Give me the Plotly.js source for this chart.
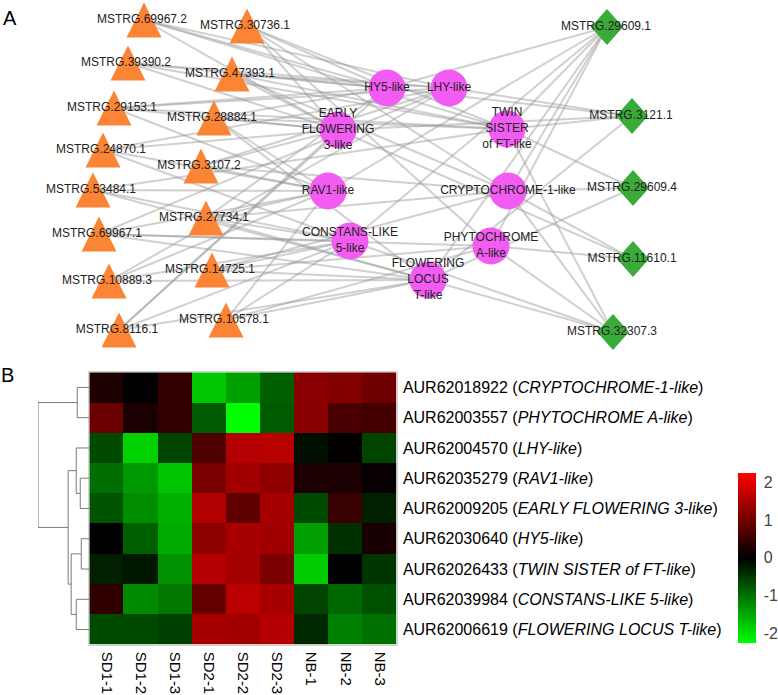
<!DOCTYPE html>
<html><head><meta charset="utf-8">
<script src="https://cdn.plot.ly/plotly-3.0.1.min.js"></script>
<style>html,body{margin:0;padding:0;background:#fff}#chart{width:778px;height:695px}</style>
</head><body><div id="chart"></div>
<script>
// ---------- Panel A: network (node layout coordinates) ----------
const lncNames = ['MSTRG.69967.2','MSTRG.30736.1','MSTRG.39390.2','MSTRG.47393.1','MSTRG.29153.1','MSTRG.28884.1','MSTRG.24870.1','MSTRG.3107.2','MSTRG.53484.1','MSTRG.27734.1','MSTRG.69967.1','MSTRG.14725.1','MSTRG.10889.3','MSTRG.10578.1','MSTRG.8116.1'];
const lncX = [144,247,128,232,114,214,103,201,93,206,99,212,109,226,119];
const lncY = [20,26,63,74,108,118,150,166,190,218,234,270,281,320,330];

const geneNames = ['HY5-like','LHY-like','EARLY<br>FLOWERING<br>3-like','TWIN<br>SISTER<br>of FT-like','RAV1-like','CRYPTOCHROME-1-like','CONSTANS-LIKE<br>5-like','PHYTOCHROME<br>A-like','FLOWERING<br>LOCUS<br>T-like'];
const geneX = [387,449,338,507,328,508,350,491,428];
const geneY = [88,88,130,129,191,191,241,246,280];

const dNames = ['MSTRG.29609.1','MSTRG.3121.1','MSTRG.29609.4','MSTRG.11610.1','MSTRG.32307.3'];
const dX = [607,632,633,633,613];
const dY = [27,116,188,259,332];

// edges: [triangle node index, gene index]
const lncEdges = [
 [0,0],[0,1],[0,3],[0,2],
 [1,0],[1,2],[1,3],[1,5],[1,7],
 [2,0],[2,1],[2,2],[2,3],
 [3,0],[3,1],[3,3],[3,2],[3,5],
 [4,1],[4,2],[4,3],[4,4],[4,0],
 [5,2],[5,3],[5,0],[5,4],[5,8],
 [6,2],[6,4],[6,1],[6,6],
 [7,1],[7,4],[7,5],[7,2],
 [8,4],[8,6],[8,8],[8,3],
 [9,4],[9,5],[9,6],[9,0],[9,8],
 [10,4],[10,6],[10,7],[10,1],[10,8],
 [11,6],[11,8],[11,7],[11,5],
 [12,6],[12,8],[12,4],[12,1],
 [13,8],[13,6],[13,7],[13,4],
 [14,8],[14,6],[14,2],[14,0]
];
// edges: [diamond node index, gene index]
const dEdges = [[0,0],[0,5],[0,7],[0,8],[0,6],[0,4],[0,3],
 [1,1],[1,3],[1,2],[1,8],[1,0],
 [2,8],[2,5],[2,3],
 [3,5],[3,7],[3,2],
 [4,7],[4,5],[4,8],[4,6],[4,3]];

// ---------- Panel B: heatmap ----------
const samples = ['SD1-1','SD1-2','SD1-3','SD2-1','SD2-2','SD2-3','NB-1','NB-2','NB-3'];
const geneIds = ['AUR62018922','AUR62003557','AUR62004570','AUR62035279','AUR62009205','AUR62030640','AUR62026433','AUR62039984','AUR62006619'];
const geneDesc = ['CRYPTOCHROME-1-like','PHYTOCHROME A-like','LHY-like','RAV1-like','EARLY FLOWERING 3-like','HY5-like','TWIN SISTER of FT-like','CONSTANS-LIKE 5-like','FLOWERING LOCUS T-like'];
const zCRY  = [0.26,0.02,0.44,-1.76,-1.41,-0.85,1.22,1.16,0.99];
const zPHYA = [0.94,0.23,0.44,-0.79,-2.25,-0.79,1.20,0.65,0.60];
const zLHY  = [-0.65,-1.84,-0.60,0.69,1.59,1.62,-0.12,0.03,-0.60];
const zRAV1 = [-0.97,-1.34,-1.73,1.08,1.41,1.27,0.23,0.23,0.07];
const zELF3 = [-0.74,-1.25,-1.55,1.55,0.85,1.45,-0.64,0.49,-0.28];
const zHY5  = [0.00,-0.85,-1.50,1.24,1.48,1.41,-1.39,-0.42,0.21];
const zTSF  = [-0.28,-0.21,-1.27,1.59,1.45,1.08,-1.80,0.00,-0.46];
const zCOL5 = [0.42,-1.22,-1.06,0.88,1.66,1.48,-0.60,-0.92,-0.72];
const zFT   = [-0.65,-0.65,-0.56,1.48,1.41,1.59,-0.35,-1.13,-0.99];
const zRows = [zCRY,zPHYA,zLHY,zRAV1,zELF3,zHY5,zTSF,zCOL5,zFT];
const cbTicks = [-2,-1,0,1,2];
// row dendrogram linkage: [childA, childB, height]; leaves 0..8, clusters 9..
const linkage = [[0,1,1.41],[3,4,1.06],[2,10,1.53],[5,6,0.94],[7,8,1.53],[12,13,2.12],[11,14,2.47],[9,15,6.0]];

// ---------- build traces ----------
const W = 778, H = 695;
const FONT = 'Liberation Sans, Arial, sans-serif';
const traces = [];

// edges
const ex = [], ey = [];
lncEdges.forEach(([a,g]) => { ex.push(lncX[a], geneX[g], null); ey.push(lncY[a], geneY[g], null); });
dEdges.forEach(([a,g]) => { ex.push(dX[a], geneX[g], null); ey.push(dY[a], geneY[g], null); });
traces.push({type:'scatter', mode:'lines', x:ex, y:ey, xaxis:'x', yaxis:'y',
  line:{color:'rgba(150,150,150,0.45)', width:2}, hoverinfo:'skip', showlegend:false});

// triangles
const tx = [], ty = [], th = 17.5;
lncX.forEach((x,i) => { const y = lncY[i];
  tx.push(x-th, x+th, x, x-th, null); ty.push(y+th, y+th, y-th, y+th, null); });
traces.push({type:'scatter', mode:'lines', x:tx, y:ty, fill:'toself', fillcolor:'#fb8535',
  line:{width:0, color:'#fb8535'}, hoverinfo:'skip', showlegend:false});

// diamonds
const qx = [], qy = [], dw = 16, dh = 18;
dX.forEach((x,i) => { const y = dY[i];
  qx.push(x, x+dw, x, x-dw, x, null); qy.push(y-dh, y, y+dh, y, y-dh, null); });
traces.push({type:'scatter', mode:'lines', x:qx, y:qy, fill:'toself', fillcolor:'#3aab38',
  line:{width:0, color:'#3aab38'}, hoverinfo:'skip', showlegend:false});

// circles
traces.push({type:'scatter', mode:'markers', x:geneX, y:geneY,
  marker:{symbol:'circle', size:37, color:'#f25cf2', line:{width:0}}, hoverinfo:'skip', showlegend:false});

// labels
traces.push({type:'scatter', mode:'text', x:lncX.map(v=>v-2).concat(dX.map(v=>v-1)).concat(geneX),
  y:lncY.concat(dY).concat(geneY), text:lncNames.concat(dNames).concat(geneNames),
  textposition:'middle center', textfont:{family:FONT, size:12, color:'#222'}, hoverinfo:'skip', showlegend:false});

// heatmap
traces.push({type:'heatmap', xaxis:'x2', yaxis:'y2', z:zRows,
  x:samples.map((_,i)=>i), y:geneIds.map((_,i)=>i),
  zmin:-2.25, zmax:2.25,
  colorscale:[[0,'#00ff00'],[0.5,'#000000'],[1,'#ff0000']],
  xgap:0, ygap:0, hoverinfo:'skip',
  colorbar:{x:737.7/W, xanchor:'left', y:(H-557.7)/H, yanchor:'middle', xpad:0, ypad:0,
    thickness:18, thicknessmode:'pixels', len:170, lenmode:'pixels',
    outlinewidth:0, tickvals:cbTicks, ticktext:cbTicks.map(String),
    ticks:'outside', ticklen:5, tickcolor:'rgba(0,0,0,0)',
    tickfont:{family:FONT, size:16, color:'#444'}}});

// dendrogram
const nodeY = {}, nodeH = {};
for (let i=0;i<9;i++){ nodeY[i]=i; nodeH[i]=0; }
const dxs = [], dys = [];
linkage.forEach(([a,b,h],k) => {
  const id = 9+k;
  dxs.push(nodeH[a], h, h, nodeH[b], null);
  dys.push(nodeY[a], nodeY[a], nodeY[b], nodeY[b], null);
  nodeY[id] = (nodeY[a]+nodeY[b])/2; nodeH[id] = h;
});
traces.push({type:'scatter', mode:'lines', x:dxs, y:dys, xaxis:'x3', yaxis:'y2',
  line:{color:'#7a7a7a', width:1}, hoverinfo:'skip', showlegend:false});

const hid = {visible:false, fixedrange:true, showgrid:false, zeroline:false};
const layout = {
  width:W, height:H, margin:{l:0,r:0,t:0,b:0,autoexpand:false},
  paper_bgcolor:'#ffffff', plot_bgcolor:'rgba(0,0,0,0)', showlegend:false,
  font:{family:FONT, color:'#000'},
  xaxis:Object.assign({domain:[0,1], range:[0,W]}, hid),
  yaxis:Object.assign({domain:[0,1], range:[H,0]}, hid),
  xaxis2:{domain:[89.3/W, 396.7/W], range:[-0.5,8.5], anchor:'y2',
    tickvals:samples.map((_,i)=>i), ticktext:samples, tickangle:90,
    ticks:'', showgrid:false, zeroline:false, fixedrange:true,
    showline:true, linecolor:'#d4d4d4', linewidth:1, mirror:true,
    ticklabelstandoff:3, automargin:false,
    tickfont:{family:FONT, size:15, color:'#000'}},
  yaxis2:{domain:[(H-644.7)/H, (H-372.3)/H], range:[8.5,-0.5], anchor:'x2', side:'right',
    tickvals:geneIds.map((_,i)=>i),
    ticktext:geneIds.map((g,i)=>g+' (<i>'+geneDesc[i]+'</i>)'),
    ticks:'', showgrid:false, zeroline:false, fixedrange:true,
    showline:true, linecolor:'#d4d4d4', linewidth:1, mirror:true,
    ticklabelstandoff:2, automargin:false,
    tickfont:{family:FONT, size:16, color:'#000'}},
  xaxis3:Object.assign({domain:[38/W, 89.3/W], range:[6.0,0], anchor:'y2'}, hid),
  annotations:[
    {text:'A', xref:'paper', yref:'paper', x:9.5/W, y:(H-18.5)/H, xanchor:'center', yanchor:'middle', showarrow:false, font:{family:FONT, size:20, color:'#000'}},
    {text:'B', xref:'paper', yref:'paper', x:8/W, y:(H-374.5)/H, xanchor:'center', yanchor:'middle', showarrow:false, font:{family:FONT, size:20, color:'#000'}}
  ]
};
Plotly.newPlot('chart', traces, layout, {staticPlot:true, displayModeBar:false});
</script>
</body></html>
